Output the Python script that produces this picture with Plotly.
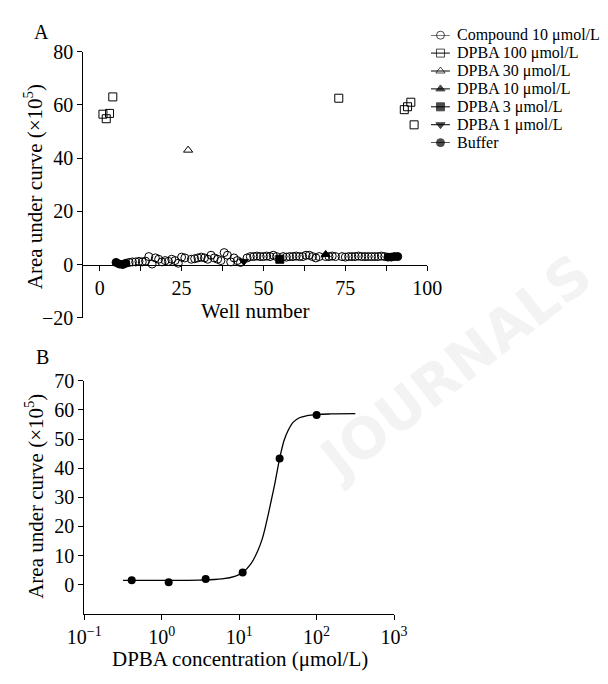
import plotly.graph_objects as go

W, H = 608, 684
def px(x): return x / W
def py(y): return 1 - y / H

# ---------------- Panel A data ----------------
compound_wells = [9, 10, 11, 12, 13, 14, 15, 16, 17, 18, 19, 20, 21, 22, 23, 24, 25, 26,
                  28, 29, 30, 31, 32, 33, 34, 35, 36, 37, 38, 39, 40, 41, 42, 43,
                  45, 46, 47, 48, 49, 50, 51, 52, 53, 54,
                  56, 57, 58, 59, 60, 61, 62, 63, 64, 65, 66, 67,
                  69, 70, 71, 72,
                  74, 75, 76, 77, 78, 79, 80, 81, 82, 83, 84, 85, 86, 87]
compound_auc = [0.8, 1.0, 1.0, 1.2, 1.0, 1.3, 3.0, 0.2, 2.5, 2.0, 1.0, 1.5, 1.2, 2.0, 1.5, 0.5, 2.8, 2.5,
                2.0, 2.2, 2.5, 2.8, 2.5, 2.0, 3.5, 2.5, 2.0, 1.5, 4.5, 3.5, 1.0, 2.5, 1.5, 0.8,
                2.5, 3.0, 3.0, 3.2, 3.0, 3.0, 3.2, 3.0, 3.5, 3.0,
                3.0, 2.8, 3.0, 3.0, 3.2, 3.0, 3.0, 3.5, 3.5, 3.0, 2.5, 3.0,
                3.0, 3.0, 3.2, 3.0,
                3.0, 2.8, 3.0, 3.0, 3.0, 3.2, 3.0, 3.0, 3.0, 3.0, 3.0, 3.0, 3.2, 3.0]
dpba100_wells = [1, 2, 3, 4, 73, 93, 94, 95, 96]
dpba100_auc = [56.5, 54.8, 56.8, 63.0, 62.5, 58.2, 59.3, 61.0, 52.5]
dpba30_wells = [27]
dpba30_auc = [43.0]
dpba10_wells = [69]
dpba10_auc = [3.8]
dpba3_wells = [55]
dpba3_auc = [2.0]
dpba1_wells = [44]
dpba1_auc = [1.2]
buffer_wells = [5, 6, 7, 8, 88, 89, 90, 91]
buffer_auc = [0.8, 0.2, 0.0, 0.5, 2.8, 2.8, 3.0, 3.0]

series_names = ["Compound 10 μmol/L", "DPBA 100 μmol/L", "DPBA 30 μmol/L",
                "DPBA 10 μmol/L", "DPBA 3 μmol/L", "DPBA 1 μmol/L", "Buffer"]

# ---------------- Panel B data ----------------
dose_conc = [0.41, 1.23, 3.7, 11.1, 33.3, 100]
dose_auc = [1.6, 0.9, 2.0, 4.2, 43.3, 58.2]
fit_conc = [0.316, 1.0, 3.0, 6.0, 9.0, 11.1, 14.0, 17.3, 20.0, 23.0, 26.0, 29.0,
            33.3, 38.0, 43.0, 50.0, 60.0, 75.0, 100.0, 150.0, 316.0]
fit_auc = [1.5, 1.5, 1.6, 2.0, 3.0, 4.2, 7.0, 11.5, 16.0, 22.5, 29.0, 35.0,
           43.3, 49.5, 53.0, 55.8, 57.3, 58.0, 58.4, 58.6, 58.7]

xtick_B = [0.1, 1, 10, 100, 1000]
xtick_B_text = ["10<sup>−1</sup>", "10<sup>0</sup>", "10<sup>1</sup>", "10<sup>2</sup>", "10<sup>3</sup>"]

FONT = "Liberation Serif"
fig = go.Figure()

styles = [
    ("circle-open", compound_wells, compound_auc),
    ("square-open", dpba100_wells, dpba100_auc),
    ("triangle-up-open", dpba30_wells, dpba30_auc),
    ("triangle-up", dpba10_wells, dpba10_auc),
    ("square", dpba3_wells, dpba3_auc),
    ("triangle-down", dpba1_wells, dpba1_auc),
    ("circle", buffer_wells, buffer_auc),
]
for (sym, xs, ys), name in zip(styles, series_names):
    fig.add_trace(go.Scatter(
        x=xs, y=ys, mode="markers", name=name, showlegend=False,
        marker=dict(symbol=sym, size=8, color="black",
                    line=dict(color="black", width=1)),
        xaxis="x", yaxis="y"))

# Hand-built legend (keys on a hidden axis, one row per series)
for row, ((sym, _, _), name) in enumerate(zip(styles, series_names)):
    fig.add_trace(go.Scatter(
        x=[0, 1, 2], y=[row] * 3, mode="lines+markers", showlegend=False,
        cliponaxis=False, hoverinfo="skip",
        line=dict(color="black", width=1),
        marker=dict(symbol=sym, size=[0, 8, 0], color="black",
                    line=dict(color="black", width=1)),
        xaxis="x3", yaxis="y3"))
    fig.add_annotation(xref="x3", yref="y3", x=2, y=row, xshift=5, text=name,
                       showarrow=False, xanchor="left", yanchor="middle",
                       font=dict(family=FONT, size=16, color="black"))

fig.add_trace(go.Scatter(x=fit_conc, y=fit_auc, mode="lines", line_shape="spline",
                         line=dict(color="black", width=1.3), showlegend=False,
                         xaxis="x2", yaxis="y2"))
fig.add_trace(go.Scatter(x=dose_conc, y=dose_auc, mode="markers", showlegend=False,
                         marker=dict(symbol="circle", size=8, color="black"),
                         xaxis="x2", yaxis="y2"))

axcommon = dict(showline=True, linecolor="black", linewidth=1, ticks="outside",
                ticklen=5, tickcolor="black", tickwidth=1, showgrid=False,
                zeroline=False, tickfont=dict(family=FONT, size=20, color="black"))
hidden = dict(visible=False, showgrid=False, zeroline=False)

fig.update_layout(
    width=W, height=H, autosize=False,
    margin=dict(l=0, r=0, t=0, b=0),
    paper_bgcolor="white", plot_bgcolor="rgba(0,0,0,0)",
    font=dict(family=FONT, color="black"),
    showlegend=False,
    xaxis=dict(domain=[px(70), px(433)], range=[-5, 100], anchor="free",
               position=py(262), tickvals=[0, 25, 50, 75, 100],
               minor=dict(dtick=12.5, tick0=0, ticks="outside", ticklen=5,
                          tickcolor="black"), **axcommon),
    yaxis=dict(domain=[py(317), py(42)], range=[-20, 80], anchor="x",
               tickvals=[-20, 0, 20, 40, 60, 80], **axcommon),
    xaxis2=dict(domain=[px(71), px(398)], type="log", range=[-1, 3], anchor="y2",
                tickvals=xtick_B, ticktext=xtick_B_text, **axcommon),
    yaxis2=dict(domain=[py(623), py(382)], range=[-10, 70], anchor="x2",
                tickvals=[0, 10, 20, 30, 40, 50, 60, 70], **axcommon),
    xaxis3=dict(domain=[px(437), px(457)], range=[0, 2], anchor="y3", **hidden),
    yaxis3=dict(domain=[py(136), py(25)], range=[6, 0], anchor="x3", **hidden),
)

ann = [
    dict(text="A", x=px(26), y=py(22), font=dict(size=20)),
    dict(text="B", x=px(27), y=py(358), font=dict(size=20)),
    dict(text="Well number", x=px(252), y=py(310), font=dict(size=21)),
    dict(text="DPBA concentration (μmol/L)", x=px(235), y=py(670), font=dict(size=21)),
    dict(text="Area under curve (×10<sup>5</sup>)", x=px(17), y=py(182),
         textangle=-90, font=dict(size=21)),
    dict(text="Area under curve (×10<sup>5</sup>)", x=px(19), y=py(502),
         textangle=-90, font=dict(size=21)),
    dict(text="<b>JOURNALS</b>", x=px(462), y=py(368), textangle=-38,
         font=dict(size=56, family="DejaVu Sans", color="rgba(200,200,200,0.22)")),
]
for a in ann:
    f = dict(family=FONT, color="black")
    f.update(a.pop("font"))
    fig.add_annotation(xref="paper", yref="paper", showarrow=False,
                       xanchor="center", yanchor="middle", font=f, **a)

fig.write_html("out.html")
